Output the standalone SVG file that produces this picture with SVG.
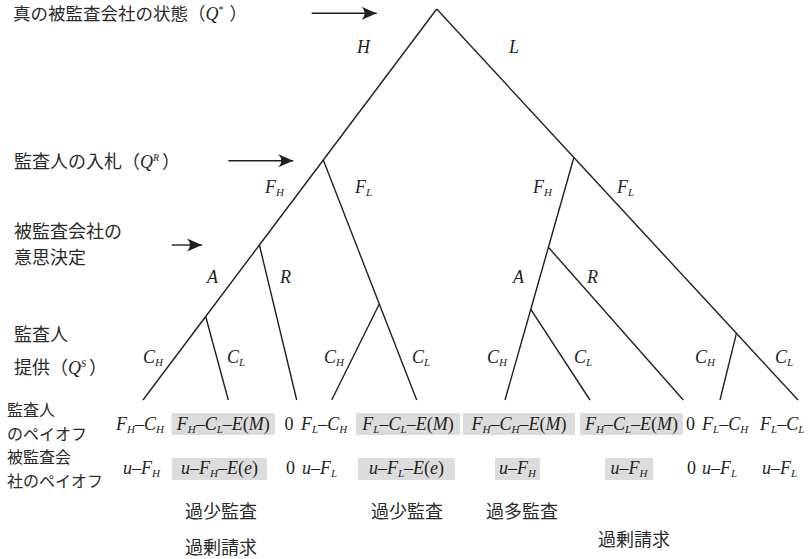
<svg xmlns="http://www.w3.org/2000/svg" width="810" height="559" viewBox="0 0 810 559">
<style>
.bg{fill:#ffffff}
.e{stroke:#231f20;stroke-width:1.4;fill:none}
.ar{stroke:#231f20;stroke-width:1.4;fill:none;marker-end:url(#ah)}
.j{font-family:"Noto Sans CJK JP","Noto Sans CJK SC",sans-serif;font-size:18px;fill:#2a2a2a}
.jp{font-size:16px}
.m{font-family:"Liberation Serif","Times New Roman",serif;font-style:italic;font-size:18px;fill:#231f20}
.s{font-size:11px}
.sp{font-size:10px}
.u{font-style:normal}
.box{fill:#dcdcdc}
.mid{text-anchor:middle}
</style>
<defs>
<marker id="ah" markerUnits="userSpaceOnUse" markerWidth="16" markerHeight="14" refX="15" refY="7" orient="auto" viewBox="0 0 16 14">
<path d="M15,7 L0,0.5 Q6,7 0,13.5 Z" fill="#231f20"/>
</marker>
</defs>
<rect class="bg" x="0" y="0" width="810" height="559"/>

<!-- stage labels -->
<g id="stage-state">
<text class="j" x="13" y="20" style="font-size:17.5px">真の被監査会社の状態（<tspan class="m">Q</tspan><tspan class="m sp u" dy="-7">*</tspan><tspan dy="7" dx="6">）</tspan></text>
<line class="ar" x1="311.7" y1="13.3" x2="376.7" y2="13.3"/>
</g>
<g id="stage-bid">
<text class="j" x="14" y="168">監査人の入札（<tspan class="m">Q</tspan><tspan class="m sp" dy="-7">R</tspan><tspan dy="7" dx="3">）</tspan></text>
<line class="ar" x1="228.3" y1="160.7" x2="293.3" y2="160.7"/>
</g>
<g id="stage-decision">
<text class="j" x="14" y="237.5">被監査会社の</text>
<text class="j" x="14" y="263.5">意思決定</text>
<line class="ar" x1="171.7" y1="245" x2="202" y2="245"/>
</g>
<g id="stage-supply">
<text class="j" x="14" y="340.5">監査人</text>
<text class="j" x="14" y="373.7">提供（<tspan class="m">Q</tspan><tspan class="m sp" dy="-7">S</tspan><tspan dy="7" dx="3">）</tspan></text>
</g>
<g id="payoff-labels">
<text class="j jp" x="7" y="416">監査人</text>
<text class="j jp" x="7" y="439.5">のペイオフ</text>
<text class="j jp" x="7" y="463">被監査会</text>
<text class="j jp" x="7" y="486.5">社のペイオフ</text>
</g>

<!-- connectors -->
<g id="connectors">
<line class="e" x1="436.7" y1="9" x2="323.3" y2="160"/>
<line class="e" x1="323.3" y1="160" x2="259.4" y2="245"/>
<line class="e" x1="259.4" y1="245" x2="205.7" y2="316.5"/>
<line class="e" x1="205.7" y1="316.5" x2="143" y2="400"/>
<line class="e" x1="205.7" y1="316.5" x2="228.3" y2="400"/>
<line class="e" x1="259.4" y1="245" x2="296.7" y2="400"/>
<line class="e" x1="323.3" y1="160" x2="379.3" y2="304"/>
<line class="e" x1="379.3" y1="304" x2="416.7" y2="400"/>
<line class="e" x1="379.3" y1="304" x2="331.7" y2="400"/>
<line class="e" x1="436.7" y1="9" x2="573.9" y2="157.5"/>
<line class="e" x1="573.9" y1="157.5" x2="548.4" y2="247.3"/>
<line class="e" x1="548.4" y1="247.3" x2="530.8" y2="309.3"/>
<line class="e" x1="530.8" y1="309.3" x2="505" y2="400"/>
<line class="e" x1="530.8" y1="309.3" x2="590" y2="400"/>
<line class="e" x1="548.4" y1="247.3" x2="683.3" y2="400"/>
<line class="e" x1="573.9" y1="157.5" x2="736.4" y2="333.3"/>
<line class="e" x1="736.4" y1="333.3" x2="798" y2="400"/>
<line class="e" x1="736.4" y1="333.3" x2="720" y2="400"/>
<g id="edge-labels">
<text class="m" x="357" y="53">H</text>
<text class="m" x="509" y="53">L</text>
<text class="m" x="265" y="193">F<tspan class="s" dy="3">H</tspan></text>
<text class="m" x="355" y="193">F<tspan class="s" dy="3">L</tspan></text>
<text class="m" x="533" y="193">F<tspan class="s" dy="3">H</tspan></text>
<text class="m" x="617" y="193">F<tspan class="s" dy="3">L</tspan></text>
<text class="m" x="207" y="283">A</text>
<text class="m" x="280" y="283">R</text>
<text class="m" x="513" y="283">A</text>
<text class="m" x="587" y="283">R</text>
<text class="m" x="143" y="363">C<tspan class="s" dy="3">H</tspan></text>
<text class="m" x="227" y="363">C<tspan class="s" dy="3">L</tspan></text>
<text class="m" x="324" y="363">C<tspan class="s" dy="3">H</tspan></text>
<text class="m" x="412" y="363">C<tspan class="s" dy="3">L</tspan></text>
<text class="m" x="487" y="363">C<tspan class="s" dy="3">H</tspan></text>
<text class="m" x="574" y="363">C<tspan class="s" dy="3">L</tspan></text>
<text class="m" x="695" y="363">C<tspan class="s" dy="3">H</tspan></text>
<text class="m" x="775" y="363">C<tspan class="s" dy="3">L</tspan></text>
</g>
</g>

<!-- leaves -->
<g id="leaf1">
<text class="m" x="116" y="430">F<tspan class="s" dy="3">H</tspan><tspan dy="-3" class="u">–</tspan>C<tspan class="s" dy="3">H</tspan></text>
<text class="m" x="123" y="474">u<tspan class="u">–</tspan>F<tspan class="s" dy="3">H</tspan></text>
</g>
<g id="leaf2">
<rect class="box" x="171.5" y="413" width="103.5" height="22"/>
<text class="m mid" x="223.3" y="430">F<tspan class="s" dy="3">H</tspan><tspan dy="-3" class="u">–</tspan>C<tspan class="s" dy="3">L</tspan><tspan dy="-3" class="u">–</tspan>E<tspan class="u">(</tspan>M<tspan class="u">)</tspan></text>
<rect class="box" x="172" y="458" width="95" height="22"/>
<text class="m mid" x="219.5" y="474">u<tspan class="u">–</tspan>F<tspan class="s" dy="3">H</tspan><tspan dy="-3" class="u">–</tspan>E<tspan class="u">(</tspan>e<tspan class="u">)</tspan></text>
<text class="j" x="185" y="518">過少監査</text>
<text class="j" x="185" y="554">過剰請求</text>
</g>
<g id="leaf3">
<text class="m u" x="284.5" y="430">0</text>
<text class="m u" x="286" y="474">0</text>
</g>
<g id="leaf4">
<text class="m" x="301" y="430">F<tspan class="s" dy="3">L</tspan><tspan dy="-3" class="u">–</tspan>C<tspan class="s" dy="3">H</tspan></text>
<text class="m" x="302" y="474">u<tspan class="u">–</tspan>F<tspan class="s" dy="3">L</tspan></text>
</g>
<g id="leaf5">
<rect class="box" x="356" y="413" width="104" height="22"/>
<text class="m mid" x="408" y="430">F<tspan class="s" dy="3">L</tspan><tspan dy="-3" class="u">–</tspan>C<tspan class="s" dy="3">L</tspan><tspan dy="-3" class="u">–</tspan>E<tspan class="u">(</tspan>M<tspan class="u">)</tspan></text>
<rect class="box" x="358" y="458" width="97" height="22"/>
<text class="m mid" x="406.5" y="474">u<tspan class="u">–</tspan>F<tspan class="s" dy="3">L</tspan><tspan dy="-3" class="u">–</tspan>E<tspan class="u">(</tspan>e<tspan class="u">)</tspan></text>
<text class="j" x="371" y="518">過少監査</text>
</g>
<g id="leaf6">
<rect class="box" x="463" y="413" width="112" height="22"/>
<text class="m mid" x="519" y="430">F<tspan class="s" dy="3">H</tspan><tspan dy="-3" class="u">–</tspan>C<tspan class="s" dy="3">H</tspan><tspan dy="-3" class="u">–</tspan>E<tspan class="u">(</tspan>M<tspan class="u">)</tspan></text>
<rect class="box" x="495" y="458" width="45" height="22"/>
<text class="m mid" x="517.5" y="474">u<tspan class="u">–</tspan>F<tspan class="s" dy="3">H</tspan></text>
<text class="j" x="486" y="518">過多監査</text>
</g>
<g id="leaf7">
<rect class="box" x="580" y="413" width="103" height="22"/>
<text class="m mid" x="631.5" y="430">F<tspan class="s" dy="3">H</tspan><tspan dy="-3" class="u">–</tspan>C<tspan class="s" dy="3">L</tspan><tspan dy="-3" class="u">–</tspan>E<tspan class="u">(</tspan>M<tspan class="u">)</tspan></text>
<rect class="box" x="605" y="458" width="48" height="22"/>
<text class="m mid" x="629" y="474">u<tspan class="u">–</tspan>F<tspan class="s" dy="3">H</tspan></text>
<text class="j" x="598" y="546">過剰請求</text>
</g>
<g id="leaf8">
<text class="m u" x="686" y="430">0</text>
<text class="m u" x="687" y="474">0</text>
</g>
<g id="leaf9">
<text class="m" x="702" y="430">F<tspan class="s" dy="3">L</tspan><tspan dy="-3" class="u">–</tspan>C<tspan class="s" dy="3">H</tspan></text>
<text class="m" x="702" y="474">u<tspan class="u">–</tspan>F<tspan class="s" dy="3">L</tspan></text>
</g>
<g id="leaf10">
<text class="m" x="760" y="430">F<tspan class="s" dy="3">L</tspan><tspan dy="-3" class="u">–</tspan>C<tspan class="s" dy="3">L</tspan></text>
<text class="m" x="762" y="474">u<tspan class="u">–</tspan>F<tspan class="s" dy="3">L</tspan></text>
</g>
</svg>
